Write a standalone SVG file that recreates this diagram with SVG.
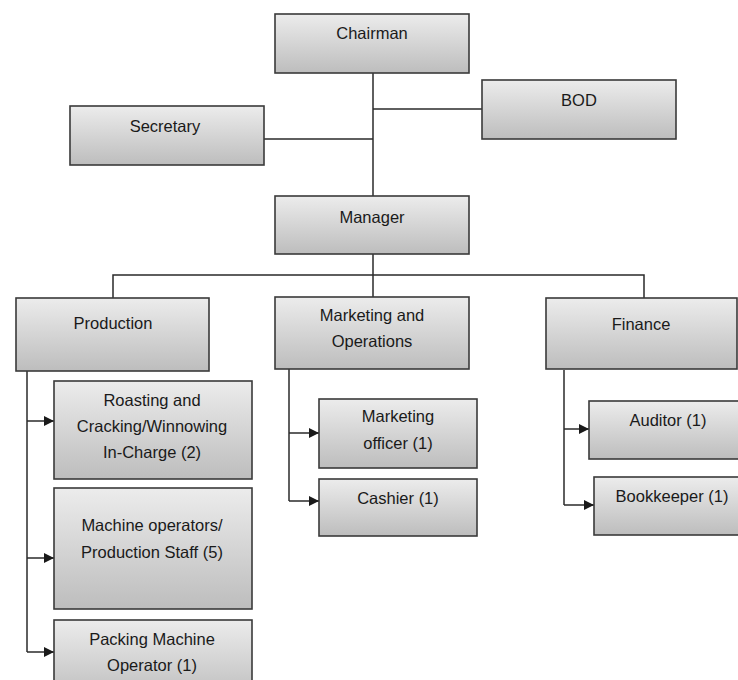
<svg xmlns="http://www.w3.org/2000/svg" width="738" height="680" viewBox="0 0 738 680">
<defs>
<linearGradient id="g" x1="0" y1="0" x2="0" y2="1">
<stop offset="0" stop-color="#ececec"/>
<stop offset="1" stop-color="#bdbdbd"/>
</linearGradient>
<marker id="arr" viewBox="0 0 10 10" refX="10" refY="5" markerWidth="10" markerHeight="10" markerUnits="userSpaceOnUse" orient="auto">
<path d="M0,0 L10,5 L0,10 Z" fill="#1a1a1a"/>
</marker>
</defs>
<style>
.box{fill:url(#g);stroke:#3a3a3a;stroke-width:1.6}
.t{font-family:"Liberation Sans",Arial,sans-serif;font-size:16.5px;fill:#1a1a1a;text-anchor:middle}
.c{fill:none;stroke:#2a2a2a;stroke-width:1.5}
</style>
<rect width="738" height="680" fill="#ffffff"/>
<g id="connectors">
<path class="c" d="M373,73 V196"/>
<path class="c" d="M373,109 H482"/>
<path class="c" d="M264,139 H373"/>
<path class="c" d="M373,254 V297"/>
<path class="c" d="M113,298 V275 H644 V298"/>
<path class="c" d="M27,371 V652"/>
<path class="c" d="M27,421 H54" marker-end="url(#arr)"/>
<path class="c" d="M27,558 H54" marker-end="url(#arr)"/>
<path class="c" d="M27,652 H54" marker-end="url(#arr)"/>
<path class="c" d="M289,369 V501"/>
<path class="c" d="M289,433 H319" marker-end="url(#arr)"/>
<path class="c" d="M289,501 H319" marker-end="url(#arr)"/>
<path class="c" d="M564,370 V505"/>
<path class="c" d="M564,429 H589" marker-end="url(#arr)"/>
<path class="c" d="M564,505 H594" marker-end="url(#arr)"/>
</g>
<g id="chairman"><rect class="box" x="275" y="14" width="194" height="59"/><text class="t" x="372" y="39">Chairman</text></g>
<g id="bod"><rect class="box" x="482" y="80" width="194" height="59"/><text class="t" x="579" y="106">BOD</text></g>
<g id="secretary"><rect class="box" x="70" y="106" width="194" height="59"/><text class="t" x="165" y="132">Secretary</text></g>
<g id="manager"><rect class="box" x="275" y="196" width="194" height="58"/><text class="t" x="372" y="223">Manager</text></g>
<g id="production"><rect class="box" x="16" y="298" width="193" height="73"/><text class="t" x="113" y="329">Production</text></g>
<g id="marketing"><rect class="box" x="275" y="297" width="194" height="72"/><text class="t" x="372" y="321">Marketing and</text><text class="t" x="372" y="347">Operations</text></g>
<g id="finance"><rect class="box" x="546" y="298" width="191" height="71"/><text class="t" x="641" y="330">Finance</text></g>
<g id="roasting"><rect class="box" x="54" y="381" width="198" height="98"/><text class="t" x="152" y="406">Roasting and</text><text class="t" x="152" y="432">Cracking/Winnowing</text><text class="t" x="152" y="458">In-Charge (2)</text></g>
<g id="machine"><rect class="box" x="54" y="488" width="198" height="121"/><text class="t" x="152" y="531">Machine operators/</text><text class="t" x="152" y="558">Production Staff (5)</text></g>
<g id="packing"><rect class="box" x="54" y="620" width="198" height="80"/><text class="t" x="152" y="645">Packing Machine</text><text class="t" x="152" y="671">Operator (1)</text></g>
<g id="mktofficer"><rect class="box" x="319" y="399" width="158" height="69"/><text class="t" x="398" y="422">Marketing</text><text class="t" x="398" y="449">officer (1)</text></g>
<g id="cashier"><rect class="box" x="319" y="479" width="158" height="57"/><text class="t" x="398" y="504">Cashier (1)</text></g>
<g id="auditor"><rect class="box" x="589" y="401" width="158" height="58"/><text class="t" x="668" y="426">Auditor (1)</text></g>
<g id="bookkeeper"><rect class="box" x="594" y="477" width="156" height="58"/><text class="t" x="672" y="502">Bookkeeper (1)</text></g>
</svg>
